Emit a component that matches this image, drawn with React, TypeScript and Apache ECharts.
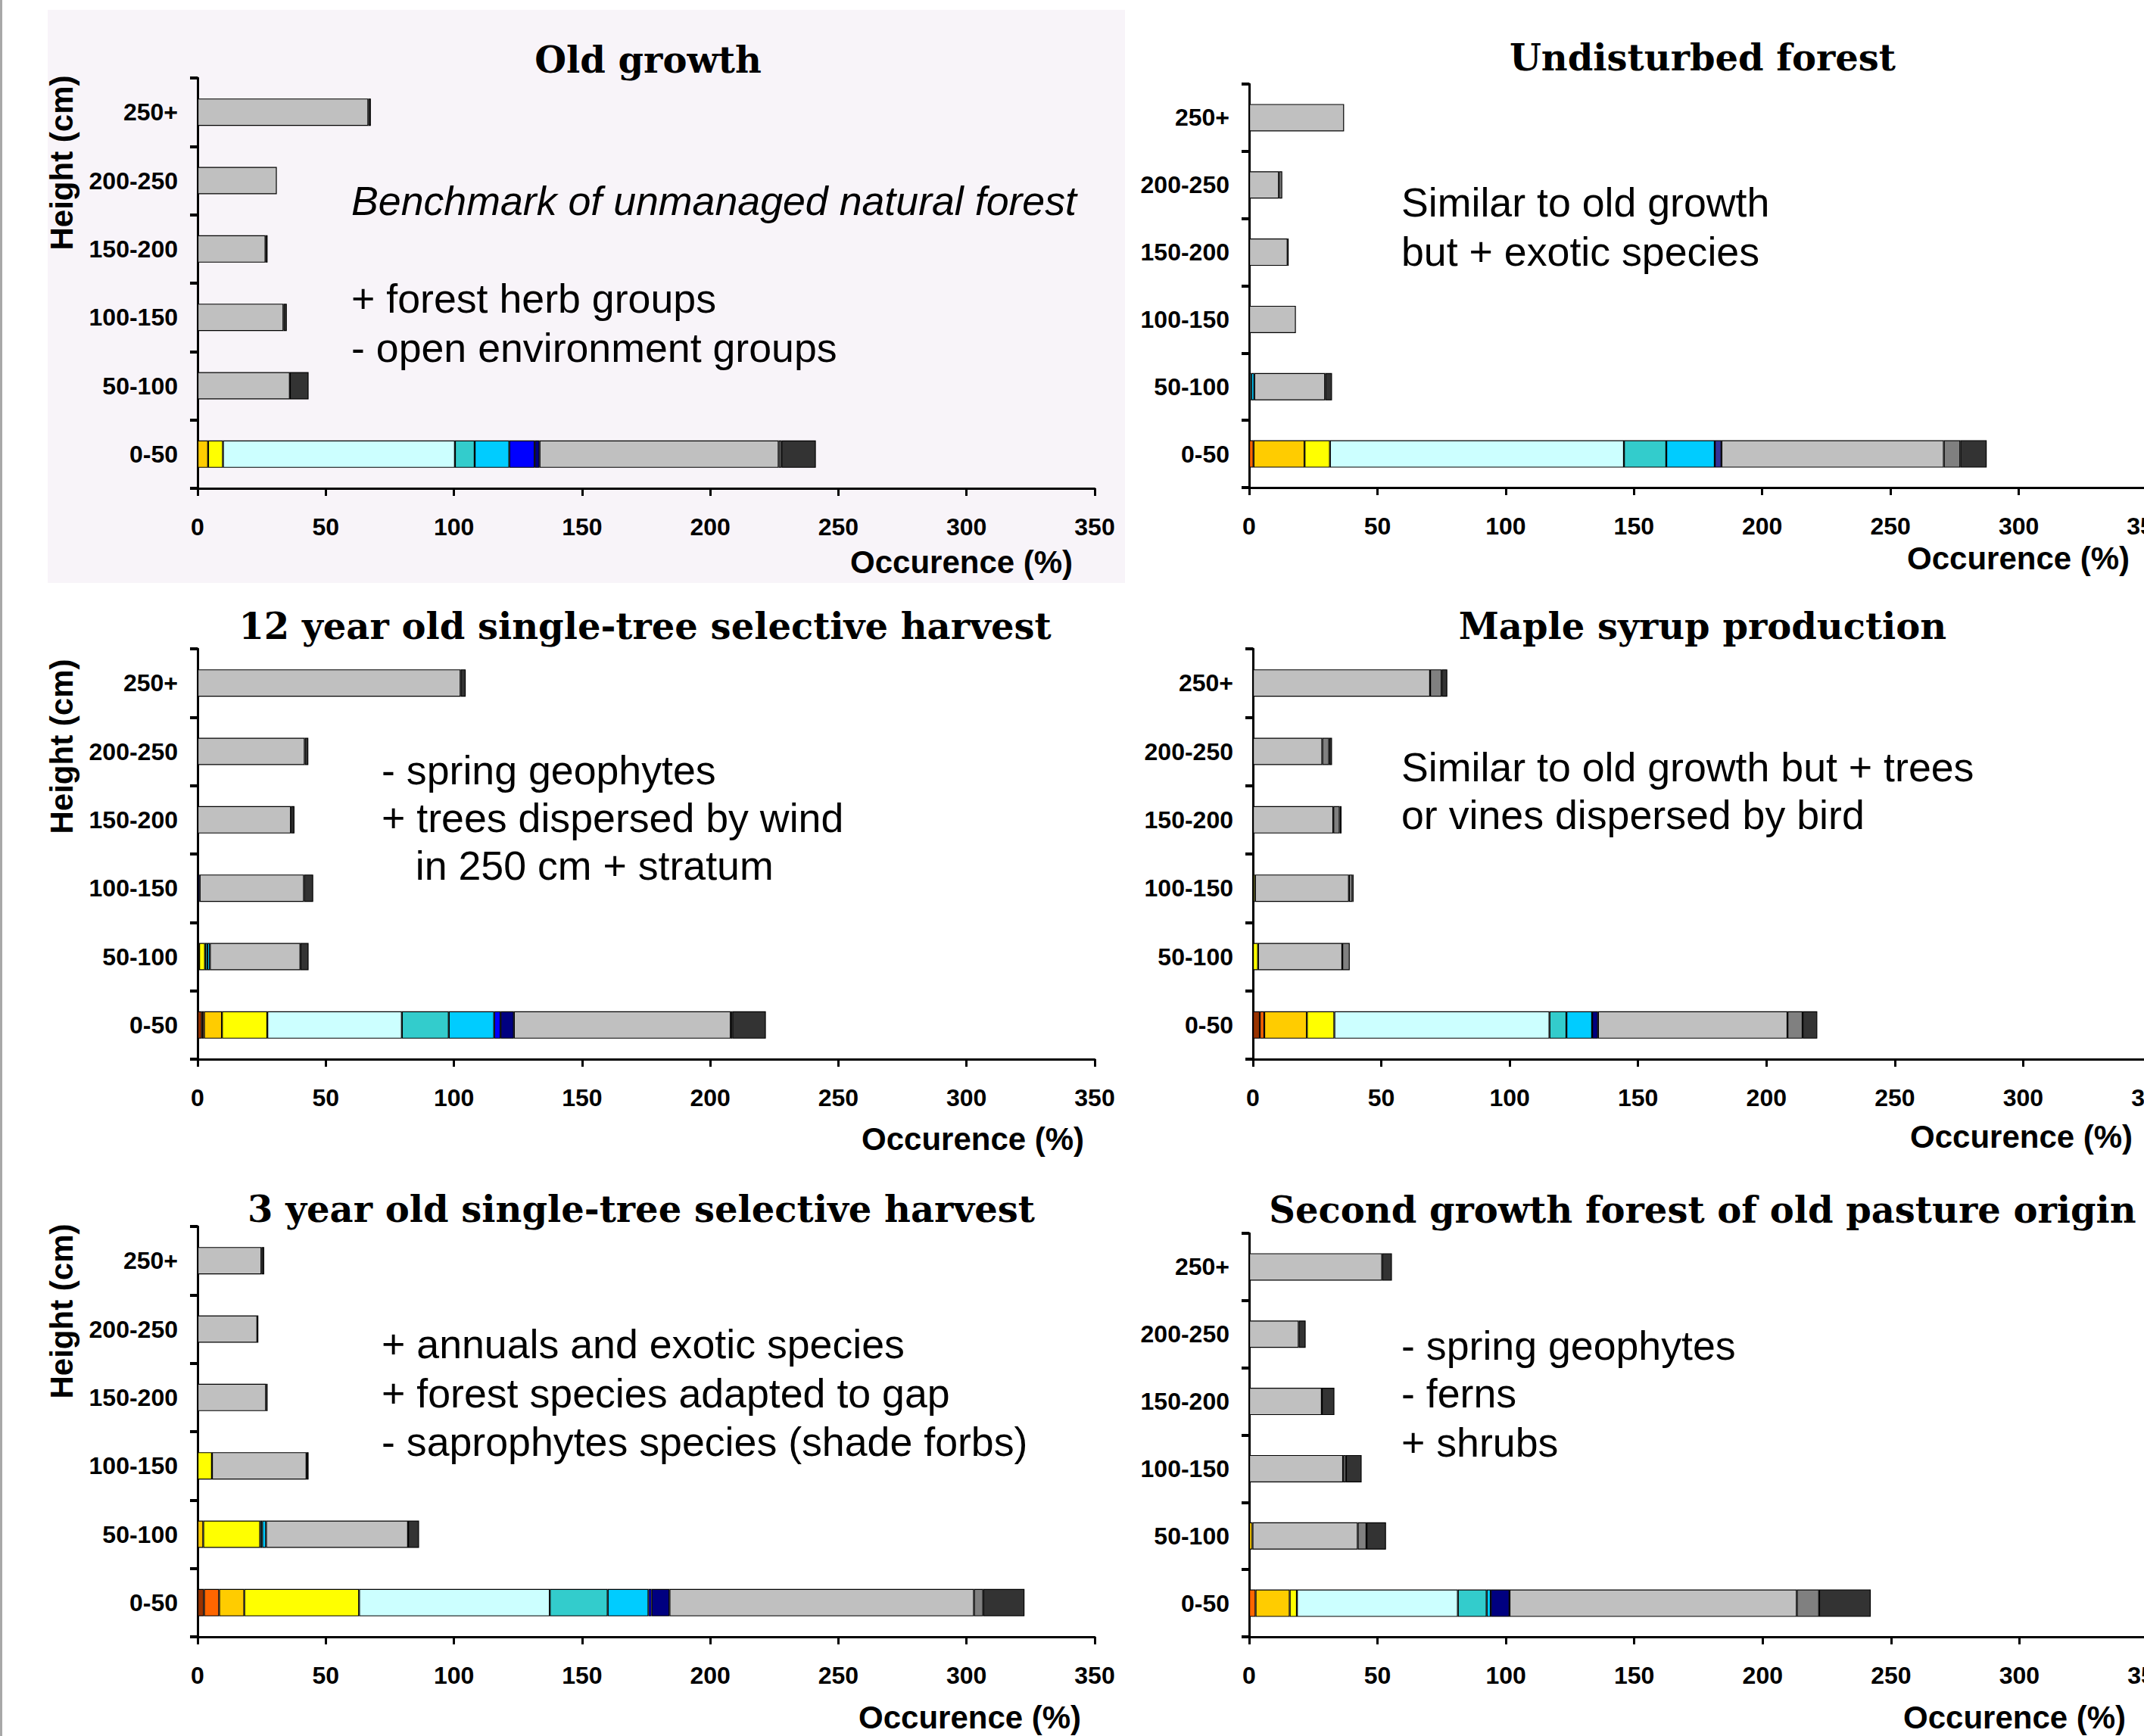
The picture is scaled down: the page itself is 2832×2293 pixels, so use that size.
import React, { useEffect, useRef } from "react";
import * as echarts from "echarts";

// Height strata (bottom to top on the axis)
const categories = ["0-50", "50-100", "100-150", "150-200", "200-250", "250+"];

// Functional groups (stack order, left to right)
const groupNames = [
  "Group A", "Group B", "Group C", "Group D", "Group E", "Group F", "Group G",
  "Group H", "Group I", "Group J", "Group K", "Group L", "Group M",
];
const groupColors = [
  "#993300", "#FF6600", "#FFCC00", "#FFFF00", "#CCFFFF", "#33CCCC", "#00CCFF",
  "#0000FF", "#333399", "#000080", "#C0C0C0", "#808080", "#333333",
];

// Occurrence (%) per stratum (rows follow `categories`), columns follow groups
const oldGrowth = [
  [0, 0, 4.1, 5.8, 90.5, 7.7, 13.5, 9.9, 0, 1.9, 93.3, 1.1, 13.4],
  [0, 0, 0, 0, 0, 0, 0, 0, 0, 0, 36.0, 0, 7.3],
  [0, 0, 0, 0, 0, 0, 0, 0, 0, 0, 33.5, 0, 1.3],
  [0, 0, 0, 0, 0, 0, 0, 0, 0, 0, 26.5, 0, 0.8],
  [0, 0, 0, 0, 0, 0, 0, 0, 0, 0, 30.9, 0, 0],
  [0, 0, 0, 0, 0, 0, 0, 0, 0, 0, 66.6, 0, 1.0],
];
const undisturbed = [
  [0, 1.7, 19.9, 9.9, 114.6, 16.5, 18.9, 0, 2.6, 0, 86.7, 6.4, 10.3],
  [0, 0, 0, 0, 0, 0.8, 1.2, 0, 0, 0, 27.6, 0, 2.7],
  [0, 0, 0, 0, 0, 0, 0, 0, 0, 0, 18.2, 0, 0],
  [0, 0, 0, 0, 0, 0, 0, 0, 0, 0, 15.0, 0, 0.4],
  [0, 0, 0, 0, 0, 0, 0, 0, 0, 0, 11.6, 1.3, 0],
  [0, 0, 0, 0, 0, 0, 0, 0, 0, 0, 37.0, 0, 0],
];
const harvest12 = [
  [1.7, 0.8, 7.0, 17.7, 52.5, 18.3, 17.7, 2.5, 0, 5.2, 84.6, 0.6, 13.1],
  [0, 0, 0.6, 2.3, 0, 0.9, 1.0, 0, 0, 0, 35.3, 0, 3.2],
  [0, 0, 0, 0, 0, 0, 0, 0, 0, 0.8, 40.7, 0, 3.6],
  [0, 0, 0, 0, 0, 0, 0, 0, 0, 0, 36.4, 0, 1.4],
  [0, 0, 0, 0, 0, 0, 0, 0, 0, 0, 41.8, 0, 1.4],
  [0, 0, 0, 0, 0, 0, 0, 0, 0, 0, 102.6, 0, 2.0],
];
const mapleSyrup = [
  [2.7, 1.7, 16.6, 10.7, 83.8, 6.6, 10.0, 0, 0, 2.3, 73.8, 5.9, 5.7],
  [0, 0, 0, 2.0, 0, 0, 0, 0, 0, 0, 32.8, 2.9, 0],
  [0, 0, 0, 0.8, 0, 0, 0, 0, 0, 0, 36.6, 1.4, 0.4],
  [0, 0, 0, 0, 0, 0, 0, 0, 0, 0, 31.3, 2.5, 0.7],
  [0, 0, 0, 0, 0, 0, 0, 0, 0, 0, 27.0, 2.7, 1.1],
  [0, 0, 0, 0, 0, 0, 0, 0, 0, 0, 69.0, 4.5, 2.2],
];
const harvest3 = [
  [2.5, 5.9, 9.8, 44.8, 74.4, 22.6, 15.9, 1.2, 0, 7.0, 118.8, 3.6, 16.1],
  [0, 0, 2.2, 22.2, 0, 0.8, 1.5, 0, 0, 0, 55.4, 0, 4.3],
  [0, 0, 0, 5.6, 0, 0, 0, 0, 0, 0, 36.9, 0, 0.8],
  [0, 0, 0, 0, 0, 0, 0, 0, 0, 0, 26.7, 0, 0.6],
  [0, 0, 0, 0, 0, 0, 0, 0, 0, 0, 23.3, 0, 0.4],
  [0, 0, 0, 0, 0, 0, 0, 0, 0, 0, 24.9, 0, 1.1],
];
const secondGrowth = [
  [0, 2.5, 13.3, 2.8, 62.7, 11.2, 1.6, 0, 0, 7.3, 111.9, 8.7, 20.1],
  [0, 0, 1.3, 0, 0, 0, 0, 0, 0, 0, 41.0, 3.4, 7.6],
  [0, 0, 0, 0, 0, 0, 0, 0, 0, 0, 36.6, 1.1, 6.1],
  [0, 0, 0, 0, 0, 0, 0, 0, 0, 0, 28.3, 0, 4.9],
  [0, 0, 0, 0, 0, 0, 0, 0, 0, 0, 19.3, 0, 2.7],
  [0, 0, 0, 0, 0, 0, 0, 0, 0, 0, 51.8, 0, 3.8],
];

const titles = [
  "Old growth",
  "Undisturbed forest",
  "12 year old single-tree selective harvest",
  "Maple syrup production",
  "3 year old single-tree selective harvest",
  "Second growth forest of old pasture origin",
];
const notes = [
  ["Benchmark of unmanaged natural forest", "+ forest herb groups", "- open environment groups"],
  ["Similar to old growth", "but + exotic species"],
  ["- spring geophytes", "+ trees dispersed by wind", "   in 250 cm + stratum"],
  ["Similar to old growth but + trees", "or vines dispersed by bird"],
  ["+ annuals and exotic species", "+ forest species adapted to gap", "- saprophytes species (shade forbs)"],
  ["- spring geophytes", "- ferns", "+ shrubs"],
];
const panelData = [oldGrowth, undisturbed, harvest12, mapleSyrup, harvest3, secondGrowth];

// Layout (pixels)
const layout = [
  { left: 261, top: 103, width: 1185, height: 542, titleX: 856, titleY: 79, noteX: 464, noteY: [265, 394, 459], occX: 1123, occY: 742, hY: 215 },
  { left: 1650, top: 111, width: 1186, height: 533, titleX: 2249, titleY: 76, noteX: 1851, noteY: [267, 332], occX: 2519, occY: 737, hY: null },
  { left: 261, top: 857, width: 1185, height: 542, titleX: 852, titleY: 827, noteX: 504, noteY: [1017, 1080, 1143], occX: 1138, occY: 1504, hY: 986 },
  { left: 1655, top: 857, width: 1187, height: 542, titleX: 2249, titleY: 827, noteX: 1851, noteY: [1013, 1076], occX: 2523, occY: 1501, hY: null },
  { left: 261, top: 1620, width: 1185, height: 542, titleX: 847, titleY: 1597, noteX: 504, noteY: [1775, 1840, 1904], occX: 1134, occY: 2268, hY: 1732 },
  { left: 1650, top: 1629, width: 1187, height: 533, titleX: 2249, titleY: 1598, noteX: 1851, noteY: [1777, 1840, 1905], occX: 2514, occY: 2268, hY: null },
];

const SANS = "'Liberation Sans', Arial, Helvetica, sans-serif";
const SERIF = "'DejaVu Serif', 'Liberation Serif', serif";

function buildOption() {
  const grid: any[] = [];
  const xAxis: any[] = [];
  const yAxis: any[] = [];
  const series: any[] = [];
  const graphic: any[] = [
    { type: "rect", z: -10, silent: true, shape: { x: 63, y: 13, width: 1423, height: 757 }, style: { fill: "#F8F4F9" } },
    { type: "rect", z: -10, silent: true, shape: { x: 0, y: 0, width: 3, height: 2293 }, style: { fill: "#A8A8A8" } },
  ];

  layout.forEach((l, pi) => {
    grid.push({ left: l.left, top: l.top, width: l.width, height: l.height, containLabel: false, outerBoundsMode: "none" });
    xAxis.push({
      type: "value",
      gridIndex: pi,
      min: 0,
      max: 350,
      interval: 50,
      splitLine: { show: false },
      axisLine: { show: true, onZero: false, lineStyle: { color: "#000", width: 3 } },
      axisTick: { show: true, length: 10, lineStyle: { color: "#000", width: 3 } },
      axisLabel: { show: true, color: "#000", fontFamily: SANS, fontWeight: "bold", fontSize: 32, margin: 35, showMaxLabel: true, showMinLabel: true },
    });
    yAxis.push({
      type: "category",
      gridIndex: pi,
      data: categories,
      axisLine: { show: true, lineStyle: { color: "#000", width: 3 } },
      axisTick: { show: true, length: 10, interval: 0, lineStyle: { color: "#000", width: 4 } },
      axisLabel: { show: true, color: "#000", fontFamily: SANS, fontWeight: "bold", fontSize: 32, margin: 26, interval: 0 },
      splitLine: { show: false },
    });
    groupColors.forEach((c, gi) => {
      series.push({
        type: "bar",
        name: groupNames[gi],
        xAxisIndex: pi,
        yAxisIndex: pi,
        stack: "panel" + pi,
        barWidth: 36,
        silent: true,
        data: panelData[pi].map((row) => (row[gi] ? row[gi] : "-")),
        itemStyle: { color: c, borderColor: "#000", borderWidth: 1.2 },
      });
    });

    graphic.push({
      type: "text",
      x: l.titleX,
      y: l.titleY,
      silent: true,
      style: { text: titles[pi], fill: "#000", font: `bold 48px ${SERIF}`, textAlign: "center", textVerticalAlign: "middle" },
    });
    notes[pi].forEach((t, li) => {
      graphic.push({
        type: "text",
        x: l.noteX,
        y: l.noteY[li],
        silent: true,
        style: {
          text: t,
          fill: "#000",
          font: `${pi === 0 && li === 0 ? "italic " : ""}53.7px ${SANS}`,
          textAlign: "left",
          textVerticalAlign: "middle",
        },
      });
    });
    graphic.push({
      type: "text",
      x: l.occX,
      y: l.occY,
      silent: true,
      style: { text: "Occurence (%)", fill: "#000", font: `bold 42px ${SANS}`, textAlign: "left", textVerticalAlign: "middle" },
    });
    if (l.hY !== null) {
      graphic.push({
        type: "text",
        x: 81,
        y: l.hY,
        rotation: Math.PI / 2,
        silent: true,
        style: { text: "Height (cm)", fill: "#000", font: `bold 42px ${SANS}`, textAlign: "center", textVerticalAlign: "middle" },
      });
    }
  });

  return {
    animation: false,
    backgroundColor: "#FFFFFF",
    grid,
    xAxis,
    yAxis,
    series,
    graphic,
  };
}

export default function App() {
  const ref = useRef<HTMLDivElement>(null);
  useEffect(() => {
    if (!ref.current) return;
    const chart = echarts.init(ref.current, null, { renderer: "svg" });
    chart.setOption(buildOption() as any);
    return () => chart.dispose();
  }, []);
  return (
    <div
      ref={ref}
      style={{ position: "absolute", left: 0, top: 0, width: 2832, height: 2293 }}
    />
  );
}
